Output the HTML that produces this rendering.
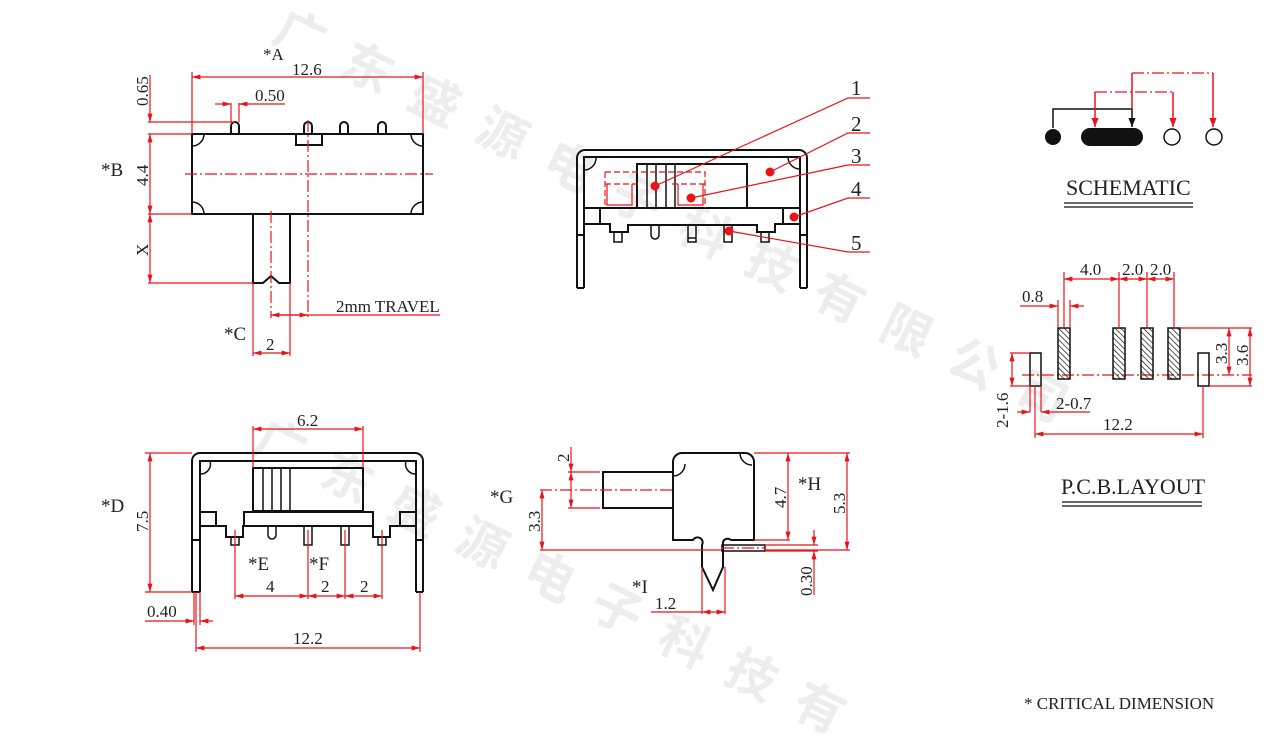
<!DOCTYPE html>
<html><head><meta charset="utf-8"><style>
html,body{margin:0;padding:0;background:#fff;width:1264px;height:744px;overflow:hidden}
svg{display:block}
text{font-family:"Liberation Serif",serif;fill:#222}
.r{stroke:#e8141a;stroke-width:1.2;fill:none}
.rd{stroke:#e8141a;stroke-width:1.2;fill:none;stroke-dasharray:12 3 2 3}
.k{stroke:#111;stroke-width:2;fill:none}
.wm{font-family:"Noto Sans CJK SC",sans-serif;fill:#ededed;font-size:50px;font-weight:bold}
</style></head><body>
<svg width="1264" height="744" viewBox="0 0 1264 744" xmlns="http://www.w3.org/2000/svg" style="overflow:hidden">
<defs>
<marker id="a" viewBox="0 0 10 10" refX="10" refY="5" markerWidth="7" markerHeight="7" orient="auto-start-reverse"><path d="M0,2 L10,5 L0,8" fill="#e8141a"/></marker>
<marker id="ab" viewBox="0 0 10 10" refX="10" refY="5" markerWidth="6" markerHeight="6" orient="auto"><path d="M0,1 L10,5 L0,9z" fill="#111"/></marker>
<marker id="ar" viewBox="0 0 10 10" refX="10" refY="5" markerWidth="6" markerHeight="6" orient="auto"><path d="M0,1 L10,5 L0,9z" fill="#e8141a"/></marker>
<pattern id="h" width="4" height="4" patternUnits="userSpaceOnUse" patternTransform="rotate(-45)"><line x1="0" y1="0" x2="0" y2="4" stroke="#111" stroke-width="1.4"/></pattern>
</defs>
<text class="wm" transform="translate(270,40) rotate(26)" letter-spacing="25">广东盛源电子科技有限公司</text>
<text class="wm" transform="translate(250,450) rotate(26)" letter-spacing="25">广东盛源电子科技有</text>

<!-- VIEW 1 -->
<g class="k">
<rect x="192" y="134" width="231" height="80"/>
<path d="M231,134 V126 a4,4 0 0 1 8,0 V134 M304,134 V126 a4,4 0 0 1 8,0 V134 M340,134 V126 a4,4 0 0 1 8,0 V134 M378,134 V126 a4,4 0 0 1 8,0 V134"/>
<rect x="296" y="134" width="26" height="11"/>
<path d="M192,146 a12,12 0 0 0 12,-12 M411,134 a12,12 0 0 0 12,12 M192,202 a12,12 0 0 1 12,12 M411,214 a12,12 0 0 1 12,-12" stroke-width="1.5"/>
<path d="M253,214 V283 H263 L271,276 L279,283 H290 V214"/>
</g>
<g>
<line class="rd" x1="185" y1="174" x2="433" y2="174"/>
<line class="rd" x1="308" y1="120" x2="308" y2="320"/>
<line class="rd" x1="271" y1="211" x2="271" y2="318"/>
<path class="r" d="M192,72 V134 M423,72 V134 M148,122 H235 M148,134 H192 M148,214 H192 M148,283 H253 M231,103 V122 M239,103 V122 M253,283 V356 M290,283 V356 M271,315 H440"/>
<line class="r" x1="192" y1="77" x2="423" y2="77" marker-start="url(#a)" marker-end="url(#a)"/>
<line class="r" x1="150" y1="75" x2="150" y2="122" marker-end="url(#a)"/>
<line class="r" x1="150" y1="134" x2="150" y2="214" marker-start="url(#a)" marker-end="url(#a)"/>
<line class="r" x1="150" y1="214" x2="150" y2="283" marker-start="url(#a)" marker-end="url(#a)"/>
<line class="r" x1="215" y1="104" x2="231" y2="104" marker-end="url(#a)"/>
<line class="r" x1="285" y1="104" x2="239" y2="104" marker-end="url(#a)"/>
<line class="r" x1="253" y1="353" x2="290" y2="353" marker-start="url(#a)" marker-end="url(#a)"/>
<line class="r" x1="271" y1="315" x2="308" y2="315" marker-start="url(#a)" marker-end="url(#a)"/>
</g>
<g font-size="17">
<text x="263" y="60">*A</text><text x="292" y="75">12.6</text>
<text x="255" y="101">0.50</text>
<text x="101" y="176" font-size="19">*B</text>
<text x="224" y="340" font-size="19">*C</text>
<text x="266" y="350">2</text>
<text x="336" y="312">2mm TRAVEL</text>
<text transform="translate(148,106) rotate(-90)">0.65</text>
<text transform="translate(148,186) rotate(-90)">4.4</text>
<text transform="translate(148,256) rotate(-90)">X</text>
</g>

<!-- VIEW 2 -->
<g class="k">
<path d="M577,288 V158 a8,8 0 0 1 8,-8 H799 a8,8 0 0 1 8,8 V288 M584,288 V157 H800 V288 M577,288 H584 M800,288 H807 M577,235 H584 M800,235 H807"/>
<path d="M584,170 a12,12 0 0 0 12,-12 M788,157 a12,12 0 0 0 12,12" stroke-width="1.5"/>
<rect x="637" y="164" width="110" height="44"/>
<path d="M637,164 H675 V208 M647,164 V208 M656,164 V208 M666,164 V208" stroke-width="1.5"/>
<path d="M584,208 H800 M584,224 H610 V232 H628 V225 H757 V232 H775 V224 H800 M783,208 V224 M600,208 V224"/>
<path d="M614,232 V242 H622 V232 M651,225 V235 a4,4 0 0 0 8,0 V225 M688,225 V238 H696 V225 M724,225 V242 H732 V225 M761,232 V242 H769 V232 M688,238 V242 H696 V238" stroke-width="1.5"/>
</g>
<g>
<path d="M605,172 H705 V208 M605,172 V208 M605,184 H640 M672,184 H705" stroke="#e8141a" stroke-width="1.2" fill="none" stroke-dasharray="6 3"/>
<path class="r" d="M607,184 V205 H632 V184 M678,184 V205 H703 V184"/>
<path class="r" d="M655,186 L848,98 H870 M770,172 L848,133 H870 M691,198 L848,165 H870 M794,217 L848,198 H870 M729,231 L848,252 H870"/>
<g fill="#e8141a"><circle cx="655" cy="186" r="4.5"/><circle cx="770" cy="172" r="4.5"/><circle cx="691" cy="198" r="4.5"/><circle cx="794" cy="217" r="4.5"/><circle cx="729" cy="231" r="4.5"/></g>
</g>
<g font-size="21">
<text x="851" y="95">1</text><text x="851" y="131">2</text><text x="851" y="163">3</text><text x="851" y="196">4</text><text x="851" y="250">5</text>
</g>

<!-- SCHEMATIC -->
<circle cx="1053" cy="137" r="8" fill="#111"/>
<rect x="1081" y="128" width="62" height="18" rx="9" fill="#111"/>
<circle cx="1172" cy="137" r="8" fill="none" stroke="#111" stroke-width="1.5"/>
<circle cx="1214" cy="137" r="8" fill="none" stroke="#111" stroke-width="1.5"/>
<path d="M1053,128 V109 H1132 V127" fill="none" stroke="#111" stroke-width="1.5" marker-end="url(#ab)"/>
<path d="M1095,92 V127" fill="none" stroke="#e8141a" stroke-width="1.5" marker-end="url(#ar)"/>
<path d="M1095,92 H1173" class="rd" stroke-width="1.5"/>
<path d="M1173,92 V127" fill="none" stroke="#e8141a" stroke-width="1.5" marker-end="url(#ar)"/>
<path d="M1132,109 V73" fill="none" stroke="#e8141a" stroke-width="1.5"/>
<path d="M1132,73 H1213" class="rd" stroke-width="1.5"/>
<path d="M1213,73 V127" fill="none" stroke="#e8141a" stroke-width="1.5" marker-end="url(#ar)"/>
<text x="1066" y="195" font-size="22">SCHEMATIC</text>
<path d="M1064,203 H1193 M1064,207 H1193" stroke="#111" stroke-width="1.3"/>

<!-- PCB -->
<line class="rd" x1="1022" y1="375" x2="1252" y2="375"/>
<g stroke="#111" stroke-width="1.5" fill="url(#h)">
<rect x="1058" y="328" width="12" height="51"/><rect x="1113" y="328" width="12" height="51"/><rect x="1141" y="328" width="12" height="51"/><rect x="1168" y="328" width="12" height="51"/>
</g>
<g stroke="#111" stroke-width="1.5" fill="none"><rect x="1030" y="353" width="11" height="33"/><rect x="1198" y="353" width="11" height="33"/></g>
<path class="r" d="M1064,272 V328 M1119,272 V328 M1147,272 V328 M1174,272 V328 M1058,300 V328 M1070,300 V328 M1180,328 H1252 M1209,386 H1252 M1010,353 H1030 M1010,386 H1030 M1030,386 V412 M1041,386 V412 M1035,386 V438 M1203,386 V438"/>
<line class="r" x1="1064" y1="279" x2="1119" y2="279" marker-start="url(#a)" marker-end="url(#a)"/>
<line class="r" x1="1119" y1="279" x2="1147" y2="279" marker-start="url(#a)" marker-end="url(#a)"/>
<line class="r" x1="1147" y1="279" x2="1174" y2="279" marker-start="url(#a)" marker-end="url(#a)"/>
<line class="r" x1="1020" y1="306" x2="1058" y2="306" marker-end="url(#a)"/>
<line class="r" x1="1084" y1="306" x2="1070" y2="306" marker-end="url(#a)"/>
<line class="r" x1="1229" y1="328" x2="1229" y2="375" marker-start="url(#a)" marker-end="url(#a)"/>
<line class="r" x1="1250" y1="328" x2="1250" y2="386" marker-start="url(#a)" marker-end="url(#a)"/>
<line class="r" x1="1012" y1="353" x2="1012" y2="386" marker-start="url(#a)" marker-end="url(#a)"/>
<line class="r" x1="1017" y1="412" x2="1030" y2="412" marker-end="url(#a)"/>
<line class="r" x1="1090" y1="412" x2="1041" y2="412" marker-end="url(#a)"/>
<line class="r" x1="1035" y1="434" x2="1203" y2="434" marker-start="url(#a)" marker-end="url(#a)"/>
<g font-size="17">
<text x="1080" y="275">4.0</text><text x="1122" y="275">2.0</text><text x="1150" y="275">2.0</text>
<text x="1022" y="302">0.8</text>
<text x="1056" y="409">2-0.7</text>
<text x="1103" y="430">12.2</text>
<text transform="translate(1227,364) rotate(-90)">3.3</text>
<text transform="translate(1248,366) rotate(-90)">3.6</text>
<text transform="translate(1008,428) rotate(-90)">2-1.6</text>
</g>
<text x="1061" y="494" font-size="22">P.C.B.LAYOUT</text>
<path d="M1062,502 H1202 M1062,506 H1202" stroke="#111" stroke-width="1.3"/>

<!-- VIEW 4 -->
<g class="k">
<path d="M192,592 V461 a8,8 0 0 1 8,-8 H415 a8,8 0 0 1 8,8 V592 M200,592 V461 H416 V592 M192,592 H200 M416,592 H423 M192,540 H200 M416,540 H423"/>
<path d="M200,474 a10,10 0 0 0 10,-13 M406,461 a10,10 0 0 0 10,13" stroke-width="1.5"/>
<rect x="253" y="468" width="110" height="43"/>
<path d="M253,468 H290 V511 M263,468 V511 M272,468 V511 M281,468 V511" stroke-width="1.5"/>
<path d="M200,512 H216 V526 M244,526 V512 H373 V526 M400,526 V512 H416 M200,526 H226 V537 H243 V526 H373 V537 H390 V526 H416"/>
<path d="M231,537 V545 H239 V537 M268,526 V535 a4,4 0 0 0 8,0 V526 M304,526 V545 H312 V526 M341,526 V545 H349 V526 M378,537 V545 H386 V537" stroke-width="1.5"/>
</g>
<path class="r" d="M253,426 V468 M363,426 V468 M145,453 H192 M145,592 H192 M235,530 V599 M308,530 V599 M345,530 V599 M382,530 V599 M194,592 V625 M200,592 V625 M196,592 V652 M420,592 V652"/>
<line class="r" x1="253" y1="429" x2="363" y2="429" marker-start="url(#a)" marker-end="url(#a)"/>
<line class="r" x1="150" y1="453" x2="150" y2="592" marker-start="url(#a)" marker-end="url(#a)"/>
<line class="r" x1="235" y1="596" x2="308" y2="596" marker-start="url(#a)" marker-end="url(#a)"/>
<line class="r" x1="308" y1="596" x2="345" y2="596" marker-start="url(#a)" marker-end="url(#a)"/>
<line class="r" x1="345" y1="596" x2="382" y2="596" marker-start="url(#a)" marker-end="url(#a)"/>
<line class="r" x1="145" y1="621" x2="194" y2="621" marker-end="url(#a)"/>
<line class="r" x1="213" y1="621" x2="200" y2="621" marker-end="url(#a)"/>
<line class="r" x1="196" y1="648" x2="420" y2="648" marker-start="url(#a)" marker-end="url(#a)"/>
<g font-size="17">
<text x="297" y="426">6.2</text>
<text x="101" y="512" font-size="19">*D</text>
<text transform="translate(148,532) rotate(-90)">7.5</text>
<text x="248" y="570" font-size="19">*E</text><text x="309" y="570" font-size="19">*F</text>
<text x="266" y="592">4</text><text x="321" y="592">2</text><text x="360" y="592">2</text>
<text x="147" y="617">0.40</text>
<text x="293" y="644">12.2</text>
</g>

<!-- VIEW 5 -->
<g class="k">
<path d="M673,540 V462 a9,9 0 0 1 9,-9 H745 a9,9 0 0 1 9,9 V540 H731 a5,5 0 0 0 -8,2 V567 L713,590 L702,567 V545 a5,5 0 0 0 -9,-5 Z"/>
<path d="M673,476 a12,12 0 0 0 12,-12 M740,453 a12,12 0 0 0 12,12" stroke-width="1.5"/>
<rect x="603" y="472" width="70" height="36"/>
<rect x="722" y="545" width="43" height="6" stroke-width="1.5"/>
</g>
<line class="rd" x1="540" y1="490" x2="673" y2="490"/>
<line class="rd" x1="722" y1="548" x2="765" y2="548"/>
<path class="r" d="M568,472 H600 M568,508 H600 M540,550 H722 M754,453 H850 M754,540 H790 M765,550 H850 M765,545 H818 M765,551 H818 M702,567 V614 M725,567 V614"/>
<line class="r" x1="571" y1="447" x2="571" y2="472" marker-end="url(#a)"/>
<line class="r" x1="571" y1="472" x2="571" y2="508" marker-start="url(#a)" marker-end="url(#a)"/>
<line class="r" x1="542" y1="490" x2="542" y2="550" marker-start="url(#a)" marker-end="url(#a)"/>
<line class="r" x1="788" y1="453" x2="788" y2="540" marker-start="url(#a)" marker-end="url(#a)"/>
<line class="r" x1="847" y1="453" x2="847" y2="550" marker-start="url(#a)" marker-end="url(#a)"/>
<line class="r" x1="814" y1="530" x2="814" y2="545" marker-end="url(#a)"/>
<line class="r" x1="814" y1="595" x2="814" y2="551" marker-end="url(#a)"/>
<line class="r" x1="651" y1="612" x2="702" y2="612"/>
<line class="r" x1="702" y1="612" x2="725" y2="612" marker-start="url(#a)" marker-end="url(#a)"/>
<g font-size="17">
<text transform="translate(569,462) rotate(-90)">2</text>
<text x="490" y="503" font-size="19">*G</text>
<text transform="translate(540,532) rotate(-90)">3.3</text>
<text transform="translate(786,508) rotate(-90)">4.7</text>
<text x="798" y="490" font-size="19">*H</text>
<text transform="translate(845,514) rotate(-90)">5.3</text>
<text transform="translate(812,596) rotate(-90)">0.30</text>
<text x="632" y="593" font-size="19">*I</text>
<text x="655" y="609">1.2</text>
</g>

<text x="1024" y="709" font-size="17">* CRITICAL  DIMENSION</text>
</svg>
</body></html>
